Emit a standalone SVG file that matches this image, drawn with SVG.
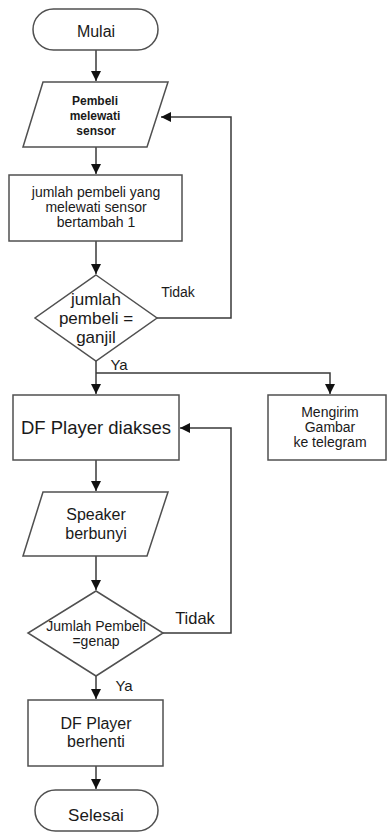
<svg xmlns="http://www.w3.org/2000/svg" width="388" height="836" viewBox="0 0 388 836">
<style>
.s{fill:#fff;stroke:#505050;stroke-width:1.5}
.c{fill:none;stroke:#3a3a3a;stroke-width:1.5}
text{font-family:"Liberation Sans",Arial,sans-serif;fill:#1a1a1a;text-anchor:middle}
</style>
<defs>
<marker id="a" viewBox="0 0 10 10" refX="10" refY="5" markerWidth="10" markerHeight="10" markerUnits="userSpaceOnUse" orient="auto">
<path d="M0,0 L10,5 L0,10 z" fill="#111"/>
</marker>
</defs>
<rect width="388" height="836" fill="#fff"/>
<g id="connectors">
<path class="c" d="M96,50 V81" marker-end="url(#a)"/>
<path class="c" d="M96,147 V174" marker-end="url(#a)"/>
<path class="c" d="M96,241 V274" marker-end="url(#a)"/>
<path class="c" d="M157,318 H231 V117 H161" marker-end="url(#a)"/>
<path class="c" d="M96,361 V394" marker-end="url(#a)"/>
<path class="c" d="M96,373 H330 V394" marker-end="url(#a)"/>
<path class="c" d="M96,460 V491" marker-end="url(#a)"/>
<path class="c" d="M96,556 V590" stroke-width="2" marker-end="url(#a)"/>
<path class="c" d="M163,633 H231 V428 H180" marker-end="url(#a)"/>
<path class="c" d="M96,676 V699" marker-end="url(#a)"/>
<path class="c" d="M96,766 V789" marker-end="url(#a)"/>
<text x="178" y="297" font-size="14">Tidak</text>
<text x="119" y="370" font-size="15">Ya</text>
<text x="195" y="624" font-size="16.5">Tidak</text>
<text x="124" y="691" font-size="15">Ya</text>
</g>
<g id="mulai">
<rect class="s" x="33" y="9" width="125" height="41" rx="20.5"/>
<text x="96" y="37" font-size="16">Mulai</text>
</g>
<g id="input1">
<polygon class="s" points="43,82 168,82 147,147 23,147"/>
<text x="95" y="105" font-size="12" font-weight="bold">Pembeli</text>
<text x="95" y="120" font-size="12" font-weight="bold">melewati</text>
<text x="96" y="135" font-size="12" font-weight="bold">sensor</text>
</g>
<g id="proses1">
<rect class="s" x="9" y="175" width="173" height="66"/>
<text x="96" y="197" font-size="14">jumlah pembeli yang</text>
<text x="96" y="212" font-size="14">melewati sensor</text>
<text x="96" y="227" font-size="14">bertambah 1</text>
</g>
<g id="decision1">
<polygon class="s" points="96,275 157,318 96,361 35,318"/>
<text x="96" y="305" font-size="17">jumlah</text>
<text x="96" y="324" font-size="17">pembeli =</text>
<text x="96" y="343" font-size="17">ganjil</text>
</g>
<g id="dfplayer">
<rect class="s" x="13" y="395" width="166" height="65"/>
<text x="96" y="434" font-size="18.5">DF Player diakses</text>
</g>
<g id="mengirim">
<rect class="s" x="268" y="395" width="118" height="65"/>
<text x="330" y="417" font-size="14">Mengirim</text>
<text x="330" y="432" font-size="14">Gambar</text>
<text x="330" y="447" font-size="14">ke telegram</text>
</g>
<g id="speaker">
<polygon class="s" points="43,492 168,492 147,556 23,556"/>
<text x="96" y="520" font-size="16">Speaker</text>
<text x="96" y="539" font-size="16">berbunyi</text>
</g>
<g id="decision2">
<polygon class="s" points="96,591 163,633 96,676 28,633"/>
<text x="96" y="631" font-size="14">Jumlah Pembeli</text>
<text x="96" y="646" font-size="14">=genap</text>
</g>
<g id="berhenti">
<rect class="s" x="28" y="700" width="135" height="66"/>
<text x="96" y="729" font-size="16">DF Player</text>
<text x="96" y="747" font-size="16">berhenti</text>
</g>
<g id="selesai">
<rect class="s" x="35" y="790" width="123" height="41" rx="20.5"/>
<text x="96" y="821" font-size="17">Selesai</text>
</g>
</svg>
